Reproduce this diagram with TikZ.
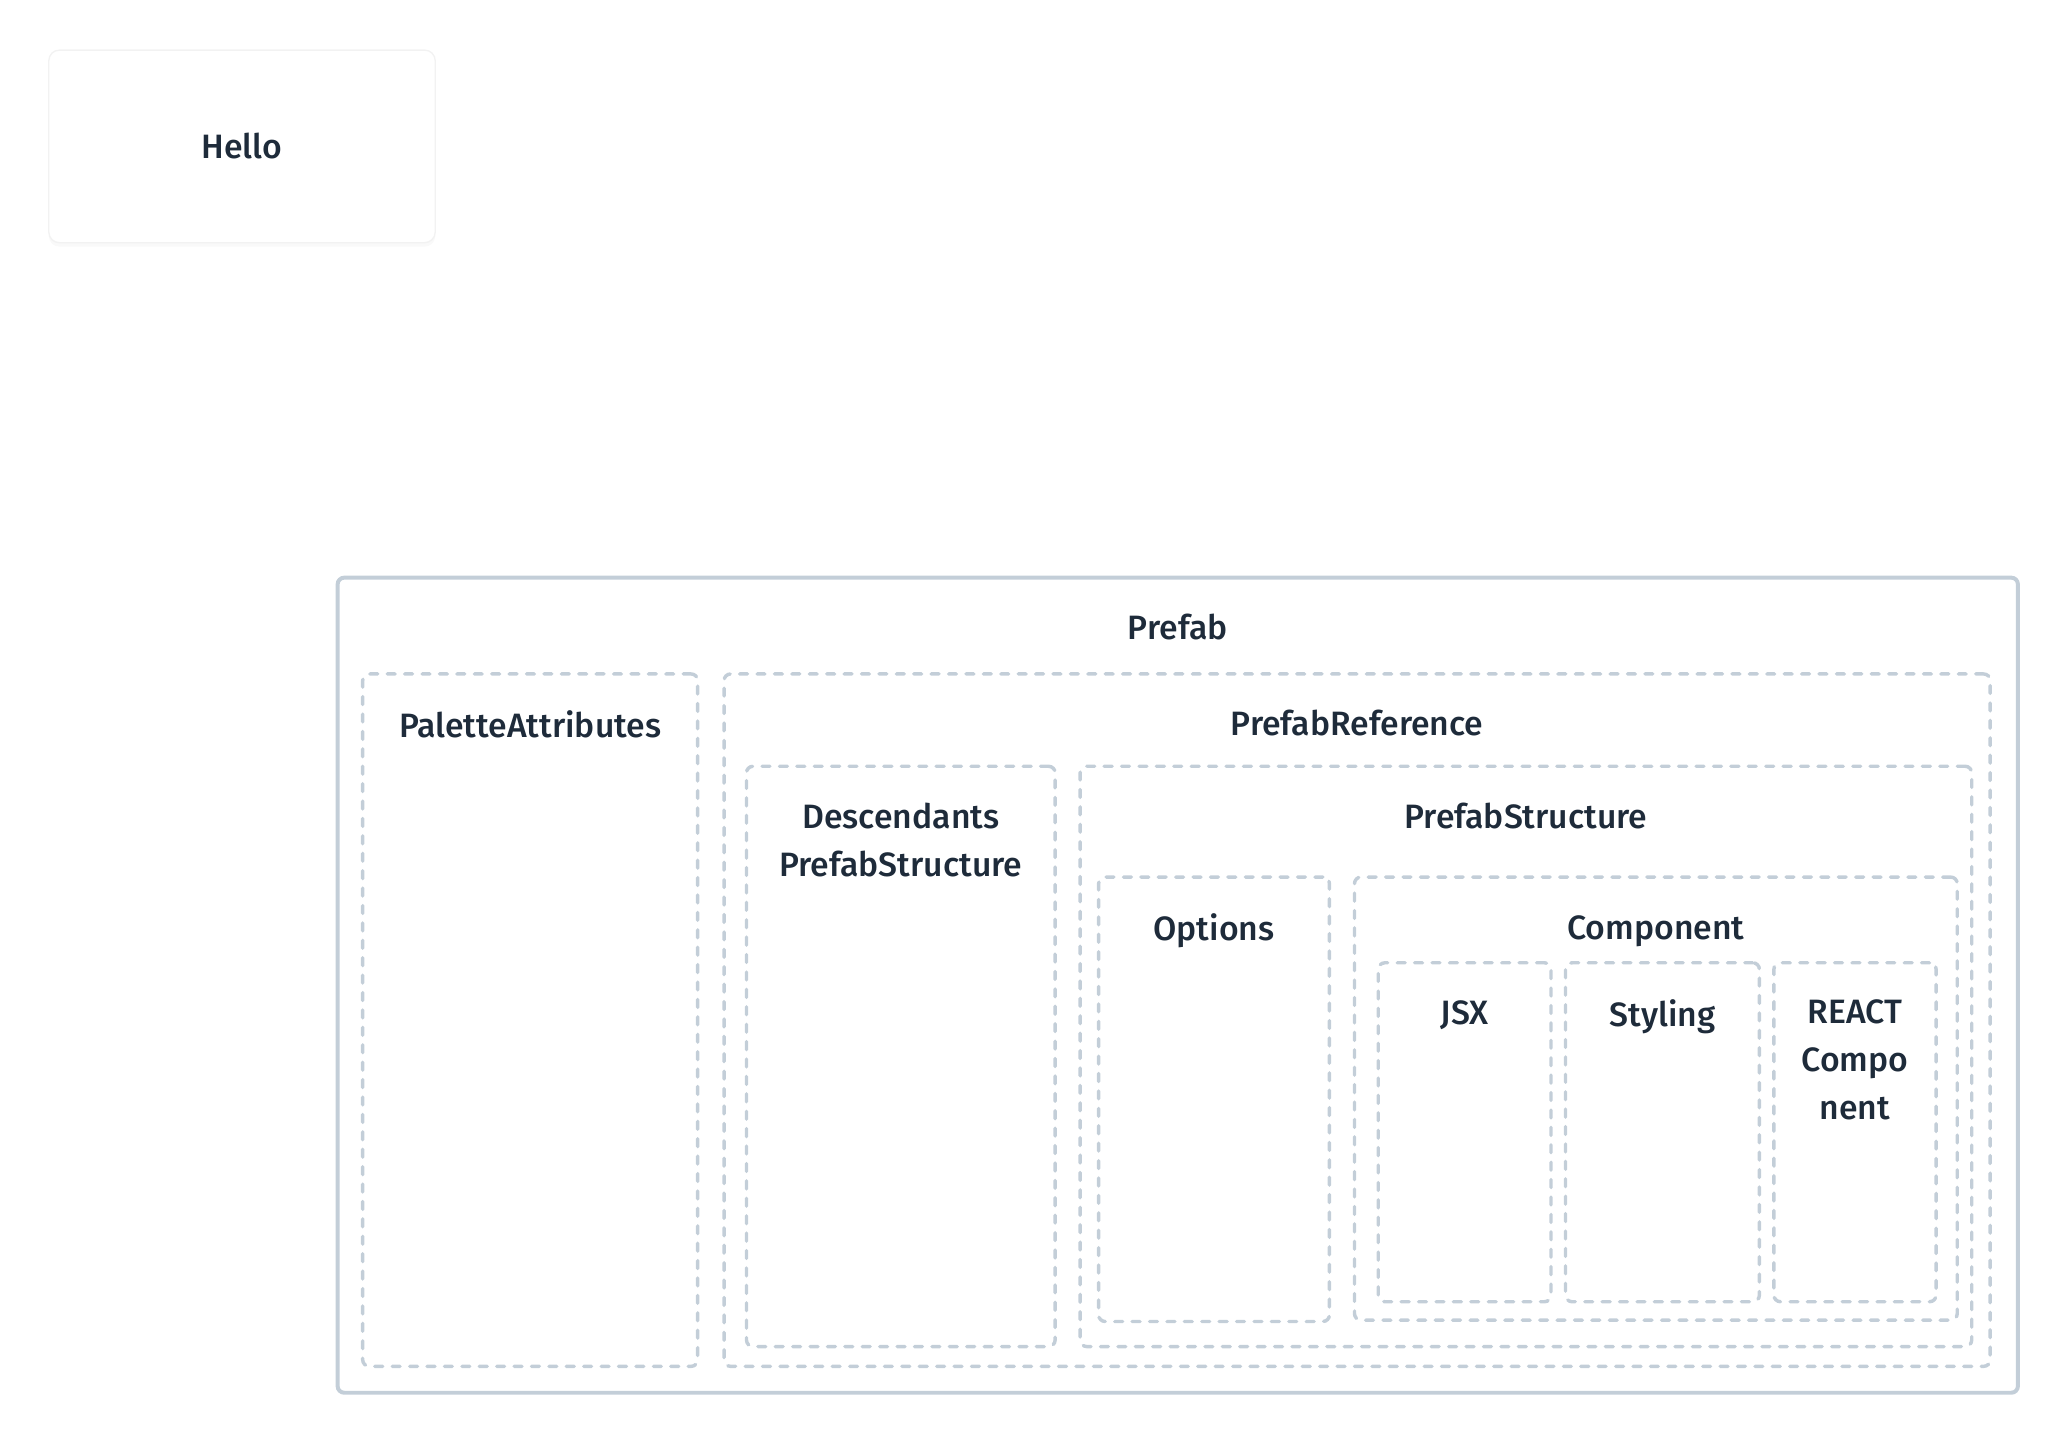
\documentclass[tikz,border=0pt]{standalone}
\usepackage{fontspec}
\setmainfont{Fira Sans Medium}
\usetikzlibrary{positioning,shadows}
\definecolor{edgegray}{HTML}{C3CED8}
\definecolor{inkblue}{HTML}{1E2B3A}
\tikzset{
    outer/.style = {draw=edgegray, line width=1.5pt, rounded corners=2.5pt, inner sep=0pt},
    frame/.style = {draw=edgegray, line width=1.3pt, dash pattern=on 3pt off 3.6pt,
                    line cap=round, rounded corners=2.5pt, inner sep=0pt},
    card/.style  = {draw=black!5, line width=0.5pt, fill=white, rounded corners=4pt,
                    drop shadow={opacity=0.05, shadow xshift=0pt, shadow yshift=-1.5pt}},
    lbl/.style   = {text=inkblue, inner sep=0pt, anchor=north, align=center,
                    font=\fontsize{12.8}{18.25}\selectfont,
                    execute at begin node={\vphantom{Tl}}}
}
\begin{document}
\begin{tikzpicture}[x=0.5pt, y=-0.5pt]
    \useasboundingbox (0,0) rectangle (1568,1094.9);
    % loose card
    \node[card, minimum width=146.5pt, minimum height=73pt] (hello) at (183.5,111) {};
    \node[text=inkblue, font=\fontsize{12.8}{18}\selectfont] (helloLbl) at (hello.center) {Hello};
    % outer box
    \node[outer, minimum width=637pt, minimum height=309pt] (prefab) at (893,747) {};
    \node[lbl, below=14.3pt of prefab.north] (prefabLbl) {Prefab};
    % first level
    \node[frame, minimum width=127pt, minimum height=262.5pt] (palette) at (402,773.5) {};
    \node[lbl, below=14.3pt of palette.north] (paletteLbl) {PaletteAttributes};
    \node[frame, minimum width=480pt, minimum height=262.5pt] (reference) at (1029,773.5) {};
    \node[lbl, below=14.3pt of reference.north] (referenceLbl) {PrefabReference};
    % second level
    \node[frame, minimum width=117pt, minimum height=220pt] (descendants) at (683,801) {};
    \node[lbl, below=14.3pt of descendants.north] (descendantsLbl) {Descendants\\PrefabStructure};
    \node[frame, minimum width=338pt, minimum height=220pt] (structure) at (1157,801) {};
    \node[lbl, below=14.3pt of structure.north] (structureLbl) {PrefabStructure};
    % third level
    \node[frame, minimum width=87.5pt, minimum height=168.5pt] (options) at (920.5,833.5) {};
    \node[lbl, below=14.3pt of options.north] (optionsLbl) {Options};
    \node[frame, minimum width=228.5pt, minimum height=168pt] (component) at (1255.5,833) {};
    \node[lbl, below=14.3pt of component.north] (componentLbl) {Component};
    % parts of the component
    \node[frame, minimum width=65.5pt, minimum height=128.5pt] (jsx) at (1110.5,858.5) {};
    \node[lbl, below=14.3pt of jsx.north] (jsxLbl) {JSX};
    \node[frame, minimum width=73.5pt, minimum height=128.5pt] (styling) at (1260.5,858.5) {};
    \node[lbl, below=14.3pt of styling.north] (stylingLbl) {Styling};
    \node[frame, minimum width=61.5pt, minimum height=128.5pt] (react) at (1406.5,858.5) {};
    \node[lbl, below=14.3pt of react.north] (reactLbl) {REACT\\Compo\\nent};
\end{tikzpicture}
\end{document}
